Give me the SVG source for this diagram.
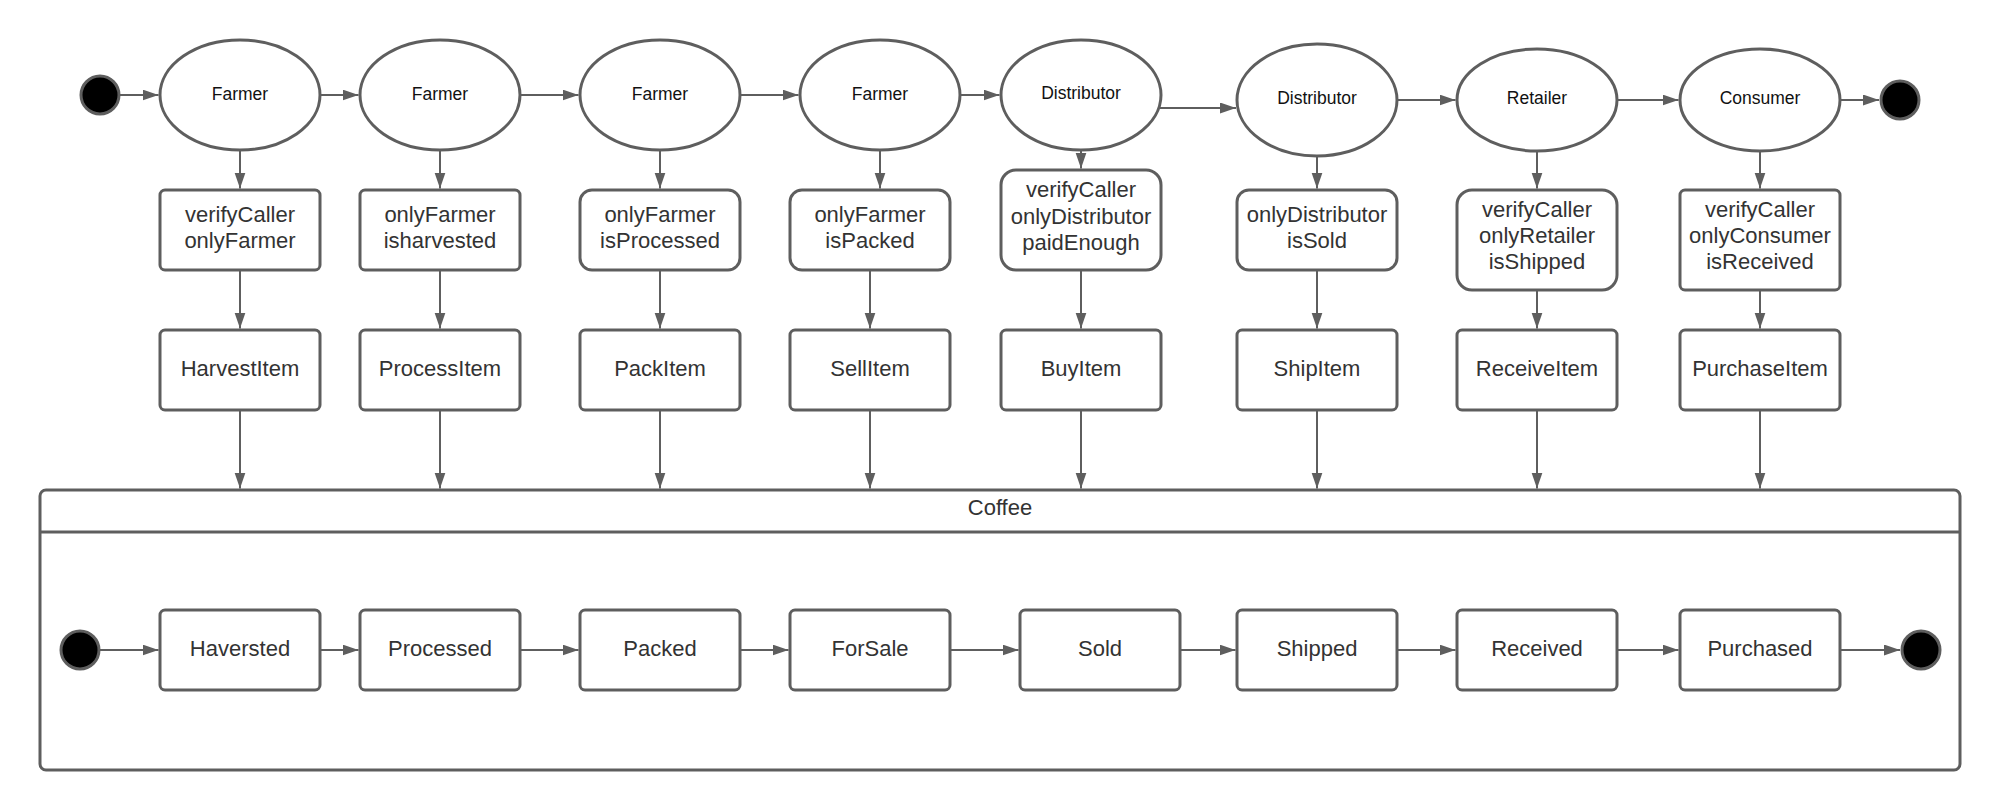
<svg xmlns="http://www.w3.org/2000/svg" width="2000" height="810" viewBox="0 0 2000 810">
<defs>
<marker id="ah" markerUnits="userSpaceOnUse" markerWidth="16" markerHeight="12" refX="16" refY="5.5" orient="auto">
<path d="M0,0 L16,5.5 L0,11 z" fill="#5e5e5e"/>
</marker>
<style>
.sh{fill:#fff;stroke:#5e5e5e;stroke-width:3}
.dot{fill:#000;stroke:#5e5e5e;stroke-width:3}
.cn line{stroke:#5e5e5e;stroke-width:2;marker-end:url(#ah)}
.el{font-family:"Liberation Sans",Arial,sans-serif;font-size:17.5px;fill:#111;text-anchor:middle}
.tx{font-family:"Liberation Sans",Arial,sans-serif;font-size:22px;fill:#333;text-anchor:middle}
</style>
</defs>
<rect width="2000" height="810" fill="#fff"/>

<g id="container">
<rect class="sh" x="40" y="490" width="1920" height="280" rx="6"/>
<line x1="40" y1="532" x2="1960" y2="532" stroke="#5e5e5e" stroke-width="3"/>
<text class="tx" x="1000" y="515">Coffee</text>
</g>

<g id="start-top"><circle class="dot" cx="100" cy="95" r="19"/></g>
<g id="actor-farmer-1"><ellipse class="sh" cx="240" cy="95" rx="80" ry="55"/><text class="el" x="240" y="99.5">Farmer</text></g>
<g id="actor-farmer-2"><ellipse class="sh" cx="440" cy="95" rx="80" ry="55"/><text class="el" x="440" y="99.5">Farmer</text></g>
<g id="actor-farmer-3"><ellipse class="sh" cx="660" cy="95" rx="80" ry="55"/><text class="el" x="660" y="99.5">Farmer</text></g>
<g id="actor-farmer-4"><ellipse class="sh" cx="880" cy="95" rx="80" ry="55"/><text class="el" x="880" y="99.5">Farmer</text></g>
<g id="actor-distributor-1"><ellipse class="sh" cx="1081" cy="95" rx="80" ry="55"/><text class="el" x="1081" y="98.5">Distributor</text></g>
<g id="actor-distributor-2"><ellipse class="sh" cx="1317" cy="100" rx="80" ry="56"/><text class="el" x="1317" y="104">Distributor</text></g>
<g id="actor-retailer"><ellipse class="sh" cx="1537" cy="100" rx="80" ry="51"/><text class="el" x="1537" y="104">Retailer</text></g>
<g id="actor-consumer"><ellipse class="sh" cx="1760" cy="100" rx="80" ry="51"/><text class="el" x="1760" y="104">Consumer</text></g>
<g id="end-top"><circle class="dot" cx="1900" cy="100" r="19"/></g>

<g id="guard-1"><rect class="sh" x="160" y="190" width="160" height="80" rx="5"/><text class="tx" x="240" y="222">verifyCaller</text><text class="tx" x="240" y="248">onlyFarmer</text></g>
<g id="guard-2"><rect class="sh" x="360" y="190" width="160" height="80" rx="5"/><text class="tx" x="440" y="222">onlyFarmer</text><text class="tx" x="440" y="248">isharvested</text></g>
<g id="guard-3"><rect class="sh" x="580" y="190" width="160" height="80" rx="12"/><text class="tx" x="660" y="222">onlyFarmer</text><text class="tx" x="660" y="248">isProcessed</text></g>
<g id="guard-4"><rect class="sh" x="790" y="190" width="160" height="80" rx="12"/><text class="tx" x="870" y="222">onlyFarmer</text><text class="tx" x="870" y="248">isPacked</text></g>
<g id="guard-5"><rect class="sh" x="1001" y="170" width="160" height="100" rx="15"/><text class="tx" x="1081" y="197">verifyCaller</text><text class="tx" x="1081" y="223.5">onlyDistributor</text><text class="tx" x="1081" y="250">paidEnough</text></g>
<g id="guard-6"><rect class="sh" x="1237" y="190" width="160" height="80" rx="12"/><text class="tx" x="1317" y="222">onlyDistributor</text><text class="tx" x="1317" y="248">isSold</text></g>
<g id="guard-7"><rect class="sh" x="1457" y="190" width="160" height="100" rx="15"/><text class="tx" x="1537" y="217">verifyCaller</text><text class="tx" x="1537" y="243">onlyRetailer</text><text class="tx" x="1537" y="269">isShipped</text></g>
<g id="guard-8"><rect class="sh" x="1680" y="190" width="160" height="100" rx="5"/><text class="tx" x="1760" y="217">verifyCaller</text><text class="tx" x="1760" y="243">onlyConsumer</text><text class="tx" x="1760" y="269">isReceived</text></g>

<g id="action-1"><rect class="sh" x="160" y="330" width="160" height="80" rx="5"/><text class="tx" x="240" y="375.5">HarvestItem</text></g>
<g id="action-2"><rect class="sh" x="360" y="330" width="160" height="80" rx="5"/><text class="tx" x="440" y="375.5">ProcessItem</text></g>
<g id="action-3"><rect class="sh" x="580" y="330" width="160" height="80" rx="5"/><text class="tx" x="660" y="375.5">PackItem</text></g>
<g id="action-4"><rect class="sh" x="790" y="330" width="160" height="80" rx="5"/><text class="tx" x="870" y="375.5">SellItem</text></g>
<g id="action-5"><rect class="sh" x="1001" y="330" width="160" height="80" rx="5"/><text class="tx" x="1081" y="375.5">BuyItem</text></g>
<g id="action-6"><rect class="sh" x="1237" y="330" width="160" height="80" rx="5"/><text class="tx" x="1317" y="375.5">ShipItem</text></g>
<g id="action-7"><rect class="sh" x="1457" y="330" width="160" height="80" rx="5"/><text class="tx" x="1537" y="375.5">ReceiveItem</text></g>
<g id="action-8"><rect class="sh" x="1680" y="330" width="160" height="80" rx="5"/><text class="tx" x="1760" y="375.5">PurchaseItem</text></g>

<g id="start-inner"><circle class="dot" cx="80" cy="650" r="19"/></g>
<g id="state-haversted"><rect class="sh" x="160" y="610" width="160" height="80" rx="5"/><text class="tx" x="240" y="655.5">Haversted</text></g>
<g id="state-processed"><rect class="sh" x="360" y="610" width="160" height="80" rx="5"/><text class="tx" x="440" y="655.5">Processed</text></g>
<g id="state-packed"><rect class="sh" x="580" y="610" width="160" height="80" rx="5"/><text class="tx" x="660" y="655.5">Packed</text></g>
<g id="state-forsale"><rect class="sh" x="790" y="610" width="160" height="80" rx="5"/><text class="tx" x="870" y="655.5">ForSale</text></g>
<g id="state-sold"><rect class="sh" x="1020" y="610" width="160" height="80" rx="5"/><text class="tx" x="1100" y="655.5">Sold</text></g>
<g id="state-shipped"><rect class="sh" x="1237" y="610" width="160" height="80" rx="5"/><text class="tx" x="1317" y="655.5">Shipped</text></g>
<g id="state-received"><rect class="sh" x="1457" y="610" width="160" height="80" rx="5"/><text class="tx" x="1537" y="655.5">Received</text></g>
<g id="state-purchased"><rect class="sh" x="1680" y="610" width="160" height="80" rx="5"/><text class="tx" x="1760" y="655.5">Purchased</text></g>
<g id="end-inner"><circle class="dot" cx="1921" cy="650" r="19"/></g>

<g id="connectors" class="cn">
<line x1="120" y1="95" x2="158.5" y2="95"/>
<line x1="321" y1="95" x2="358.5" y2="95"/>
<line x1="521" y1="95" x2="578.5" y2="95"/>
<line x1="741" y1="95" x2="798.5" y2="95"/>
<line x1="961" y1="95" x2="999.5" y2="95"/>
<line x1="1160" y1="108" x2="1236" y2="108"/>
<line x1="1398" y1="100" x2="1455.5" y2="100"/>
<line x1="1618" y1="100" x2="1678.5" y2="100"/>
<line x1="1841" y1="100" x2="1879" y2="100"/>

<line x1="240" y1="151" x2="240" y2="188.5"/>
<line x1="440" y1="151" x2="440" y2="188.5"/>
<line x1="660" y1="151" x2="660" y2="188.5"/>
<line x1="880" y1="151" x2="880" y2="188.5"/>
<line x1="1081" y1="150" x2="1081" y2="168.5"/>
<line x1="1317" y1="157" x2="1317" y2="188.5"/>
<line x1="1537" y1="152" x2="1537" y2="188.5"/>
<line x1="1760" y1="152" x2="1760" y2="188.5"/>

<line x1="240" y1="271" x2="240" y2="328.5"/>
<line x1="440" y1="271" x2="440" y2="328.5"/>
<line x1="660" y1="271" x2="660" y2="328.5"/>
<line x1="870" y1="271" x2="870" y2="328.5"/>
<line x1="1081" y1="271" x2="1081" y2="328.5"/>
<line x1="1317" y1="271" x2="1317" y2="328.5"/>
<line x1="1537" y1="291" x2="1537" y2="328.5"/>
<line x1="1760" y1="291" x2="1760" y2="328.5"/>

<line x1="240" y1="411" x2="240" y2="488.5"/>
<line x1="440" y1="411" x2="440" y2="488.5"/>
<line x1="660" y1="411" x2="660" y2="488.5"/>
<line x1="870" y1="411" x2="870" y2="488.5"/>
<line x1="1081" y1="411" x2="1081" y2="488.5"/>
<line x1="1317" y1="411" x2="1317" y2="488.5"/>
<line x1="1537" y1="411" x2="1537" y2="488.5"/>
<line x1="1760" y1="411" x2="1760" y2="488.5"/>

<line x1="100" y1="650" x2="158.5" y2="650"/>
<line x1="321" y1="650" x2="358.5" y2="650"/>
<line x1="521" y1="650" x2="578.5" y2="650"/>
<line x1="741" y1="650" x2="788.5" y2="650"/>
<line x1="951" y1="650" x2="1018.5" y2="650"/>
<line x1="1181" y1="650" x2="1235.5" y2="650"/>
<line x1="1398" y1="650" x2="1455.5" y2="650"/>
<line x1="1618" y1="650" x2="1678.5" y2="650"/>
<line x1="1841" y1="650" x2="1900" y2="650"/>
</g>
</svg>
